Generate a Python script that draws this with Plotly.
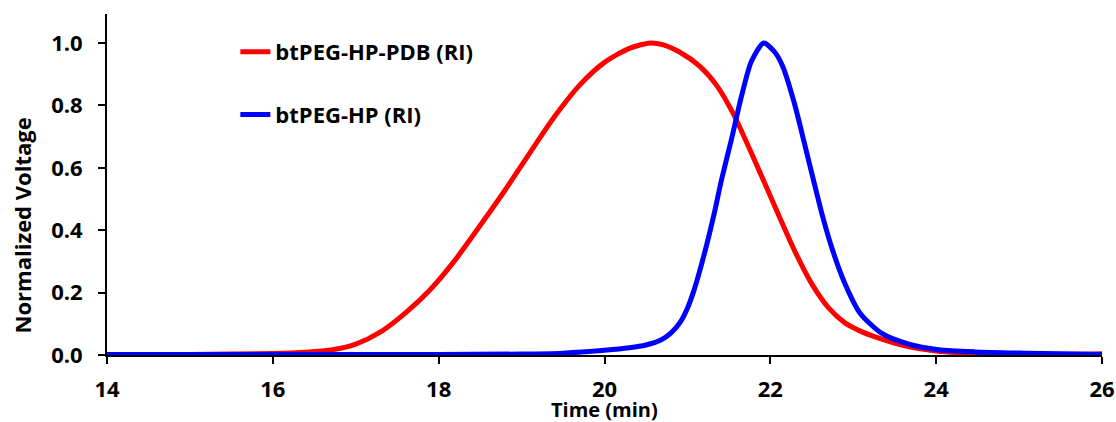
import plotly.graph_objects as go

# Time (min) / normalized RI signal
red_x = [14.0, 15.0, 16.0, 16.4, 16.7, 17.0, 17.3, 17.6, 17.9, 18.2, 18.5, 18.8, 19.1,
         19.4, 19.7, 20.0, 20.3, 20.55, 20.7, 20.9, 21.15, 21.35, 21.55, 21.75, 21.95, 22.15,
         22.3, 22.5, 22.7, 22.9, 23.1, 23.3, 23.6, 24.0, 24.4, 25.0, 25.5, 26.0]
red_y = [0.0, 0.002, 0.005, 0.009, 0.016, 0.035, 0.074, 0.135, 0.21, 0.305, 0.415, 0.528, 0.648,
         0.765, 0.865, 0.938, 0.983, 1.0, 0.995, 0.972, 0.925, 0.865, 0.775, 0.66, 0.54, 0.418,
         0.33, 0.228, 0.152, 0.103, 0.075, 0.055, 0.031, 0.013, 0.006, 0.003, 0.002, 0.004]

blue_x = [14.0, 18.0, 19.0, 19.5, 20.0, 20.3, 20.5, 20.68, 20.8, 20.92, 21.0, 21.08, 21.2, 21.32,
          21.41, 21.53, 21.65, 21.77, 21.92, 22.05, 22.15, 22.29, 22.41, 22.53, 22.62, 22.74,
          22.89, 23.08, 23.34, 23.67, 24.03, 24.47, 25.07, 25.5, 26.0]
blue_y = [0.002, 0.002, 0.003, 0.006, 0.015, 0.023, 0.032, 0.048, 0.07, 0.108, 0.15, 0.208, 0.32, 0.45,
          0.56, 0.69, 0.827, 0.94, 1.0, 0.972, 0.925, 0.807, 0.68, 0.55, 0.455, 0.345,
          0.235, 0.135, 0.07, 0.035, 0.017, 0.01, 0.006, 0.004, 0.002]

red_name = "btPEG-HP-PDB (RI)"
blue_name = "btPEG-HP (RI)"
x_ticks = [14, 16, 18, 20, 22, 24, 26]
y_ticks = [0.0, 0.2, 0.4, 0.6, 0.8, 1.0]

FONT = "Open Sans"

fig = go.Figure()
fig.add_trace(go.Scatter(x=red_x, y=red_y, mode="lines", name=red_name, legendgroup="a",
                         line=dict(color="#ff0000", width=5, shape="spline", smoothing=0.7)))
fig.add_trace(go.Scatter(x=blue_x, y=blue_y, mode="lines", name=blue_name, legendgroup="b",
                         line=dict(color="#0000ff", width=5, shape="spline", smoothing=0.7)))

fig.update_layout(
    width=1116, height=422,
    margin=dict(l=107, r=14, t=14, b=67),
    plot_bgcolor="white", paper_bgcolor="white",
    font=dict(family=FONT, color="black"),
    showlegend=True,
    legend=dict(x=0.129, y=0.95, xanchor="left", yanchor="top",
                bgcolor="rgba(0,0,0,0)", tracegroupgap=31,
                font=dict(family=FONT, size=22, color="black", weight="bold"),
                traceorder="grouped"),
    xaxis=dict(range=[14, 26], tickvals=x_ticks, ticktext=[str(v) for v in x_ticks],
               showgrid=False, zeroline=False, showline=True, linecolor="black", linewidth=2,
               ticks="outside", ticklen=7, tickwidth=2, tickcolor="black",
               ticklabelstandoff=7, automargin=False,
               tickfont=dict(family=FONT, size=22, color="black", weight="bold")),
    yaxis=dict(range=[0, 1.093], tickvals=y_ticks, ticktext=[f"{v:.1f}" for v in y_ticks],
               showgrid=False, zeroline=False, showline=True, linecolor="black", linewidth=2,
               ticks="outside", ticklen=7, tickwidth=2, tickcolor="black",
               ticklabelstandoff=11, automargin=False,
               tickfont=dict(family=FONT, size=22, color="black", weight="bold")),
)

fig.add_annotation(text="Time (min)", xref="paper", yref="paper", x=0.5, y=0,
                   yshift=-54, xanchor="center", yanchor="middle", showarrow=False,
                   font=dict(family=FONT, size=20, color="black", weight="bold"))
fig.add_annotation(text="Normalized Voltage", xref="paper", yref="paper", x=0, y=0.38,
                   xshift=-85, xanchor="center", yanchor="middle", textangle=-90, showarrow=False,
                   font=dict(family=FONT, size=22, color="black", weight="bold"))

fig.write_html("out.html", config={"displayModeBar": False},
               post_script="document.body.style.margin='0';")
